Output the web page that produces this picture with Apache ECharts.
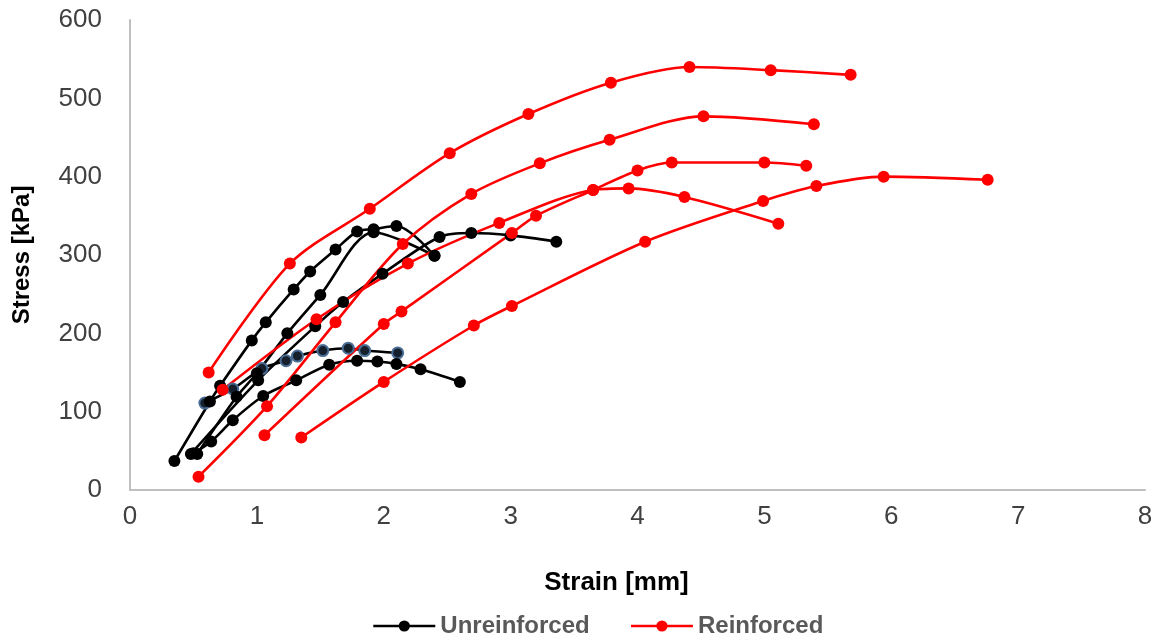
<!DOCTYPE html>
<html>
<head>
<meta charset="utf-8">
<script src="https://cdn.jsdelivr.net/npm/echarts@6/dist/echarts.min.js"></script>
<style>
  html, body { margin: 0; padding: 0; background: #fff; }
  #chart { width: 1160px; height: 639px; }
</style>
</head>
<body>
<div id="chart"></div>
<script>
// strain [mm], stress [kPa]
// unreinforced tests
const unreinforced1 = [[0.35, 37], [0.63, 113], [0.71, 133], [0.96, 191], [1.07, 214], [1.29, 256], [1.42, 279], [1.62, 307], [1.79, 330], [1.92, 333], [2.1, 337], [2.4, 299]];
const unreinforced2 = [[0.53, 46], [0.84, 119], [1.0, 149], [1.24, 200], [1.5, 249], [1.92, 329], [2.4, 299]];
const unreinforced3 = [[0.48, 46], [1.01, 140], [1.46, 209], [1.68, 240], [1.99, 276], [2.44, 323], [2.69, 328], [3.0, 325], [3.36, 317]];
const unreinforced4 = [[0.5, 47], [0.64, 62], [0.81, 89], [1.05, 120], [1.31, 140], [1.57, 160], [1.79, 165], [1.95, 164], [2.1, 161], [2.29, 154], [2.6, 138]];
const unreinforced5 = [[0.59, 111], [0.81, 129], [1.04, 155], [1.23, 165], [1.32, 171], [1.52, 178], [1.72, 181], [1.85, 178], [2.11, 175]];

// reinforced tests
const reinforced1 = [[0.62, 150], [1.26, 289], [1.89, 359], [2.52, 430], [3.14, 480], [3.79, 520], [4.41, 540], [5.05, 536], [5.68, 530]];
const reinforced2 = [[0.54, 17], [1.08, 107], [1.62, 214], [2.15, 314], [2.69, 378], [3.23, 417], [3.78, 447], [4.52, 477], [5.39, 467]];
const reinforced3 = [[1.06, 70], [2.0, 212], [2.14, 228], [3.01, 328], [3.2, 350], [3.65, 383], [4.0, 408], [4.27, 418], [5.0, 418], [5.33, 414]];
const reinforced4 = [[0.73, 128], [1.47, 218], [2.19, 289], [2.91, 341], [3.65, 383], [3.93, 385], [4.37, 374], [5.11, 340]];
const reinforced5 = [[1.35, 67], [2.0, 138], [2.71, 210], [3.01, 235], [4.06, 317], [4.99, 369], [5.41, 388], [5.94, 400], [6.76, 396]];

const xTicks = [0, 1, 2, 3, 4, 5, 6, 7, 8];
const yTicks = [0, 100, 200, 300, 400, 500, 600];

const FONT = 'Liberation Sans';

function lineSeries(name, data, color, extra) {
  return Object.assign({
    name: name,
    type: 'line',
    data: data,
    smooth: 0.3,
    symbol: 'circle',
    symbolSize: 12,
    showSymbol: true,
    lineStyle: { color: color, width: 2.6 },
    itemStyle: { color: color },
    emphasis: { disabled: true },
    animation: false
  }, extra || {});
}

const series = [
  // the odd test with blue-rimmed markers
  lineSeries('', unreinforced5, '#000', {
    itemStyle: { color: '#16202c', borderColor: '#4a6d96', borderWidth: 2 },
    symbolSize: 11
  }),
  lineSeries('Unreinforced', unreinforced1, '#000'),
  lineSeries('Unreinforced', unreinforced2, '#000'),
  lineSeries('Unreinforced', unreinforced3, '#000'),
  lineSeries('Unreinforced', unreinforced4, '#000'),
  lineSeries('Reinforced', reinforced1, '#ff0000'),
  lineSeries('Reinforced', reinforced2, '#ff0000'),
  lineSeries('Reinforced', reinforced3, '#ff0000'),
  lineSeries('Reinforced', reinforced4, '#ff0000'),
  lineSeries('Reinforced', reinforced5, '#ff0000')
];

const myChart = echarts.init(document.getElementById('chart'));

const option = {
  backgroundColor: '#fff',
  grid: { left: 130, right: 15, top: 20, bottom: 149 },
  legend: {
    data: ['Unreinforced', 'Reinforced'],
    left: 367,
    top: 609,
    itemWidth: 62,
    itemHeight: 14,
    itemGap: 40,
    lineStyle: { width: 2.6 },
    textStyle: { color: '#595959', fontSize: 24, fontWeight: 'bold', fontFamily: FONT }
  },
  xAxis: {
    type: 'value',
    min: xTicks[0],
    max: xTicks[xTicks.length - 1],
    interval: 1,
    name: 'Strain [mm]',
    nameLocation: 'middle',
    nameGap: 80,
    nameTextStyle: { color: '#000', fontSize: 26, fontWeight: 'bold', fontFamily: FONT, padding: [0, 42, 0, 0] },
    axisLine: { show: true, lineStyle: { color: '#bfbfbf', width: 2 } },
    axisTick: { show: false },
    splitLine: { show: false },
    axisLabel: { color: '#404040', fontSize: 26, fontFamily: FONT, margin: 14 }
  },
  yAxis: {
    type: 'value',
    min: yTicks[0],
    max: yTicks[yTicks.length - 1],
    interval: 100,
    name: 'Stress [kPa]',
    nameLocation: 'middle',
    nameGap: 96,
    nameTextStyle: { color: '#000', fontSize: 24, fontWeight: 'bold', fontFamily: FONT },
    axisLine: { show: true, lineStyle: { color: '#bfbfbf', width: 2 } },
    axisTick: { show: false },
    splitLine: { show: false },
    axisLabel: { color: '#404040', fontSize: 26, fontFamily: FONT, margin: 28 }
  },
  series: series
};

myChart.setOption(option);
</script>
</body>
</html>
